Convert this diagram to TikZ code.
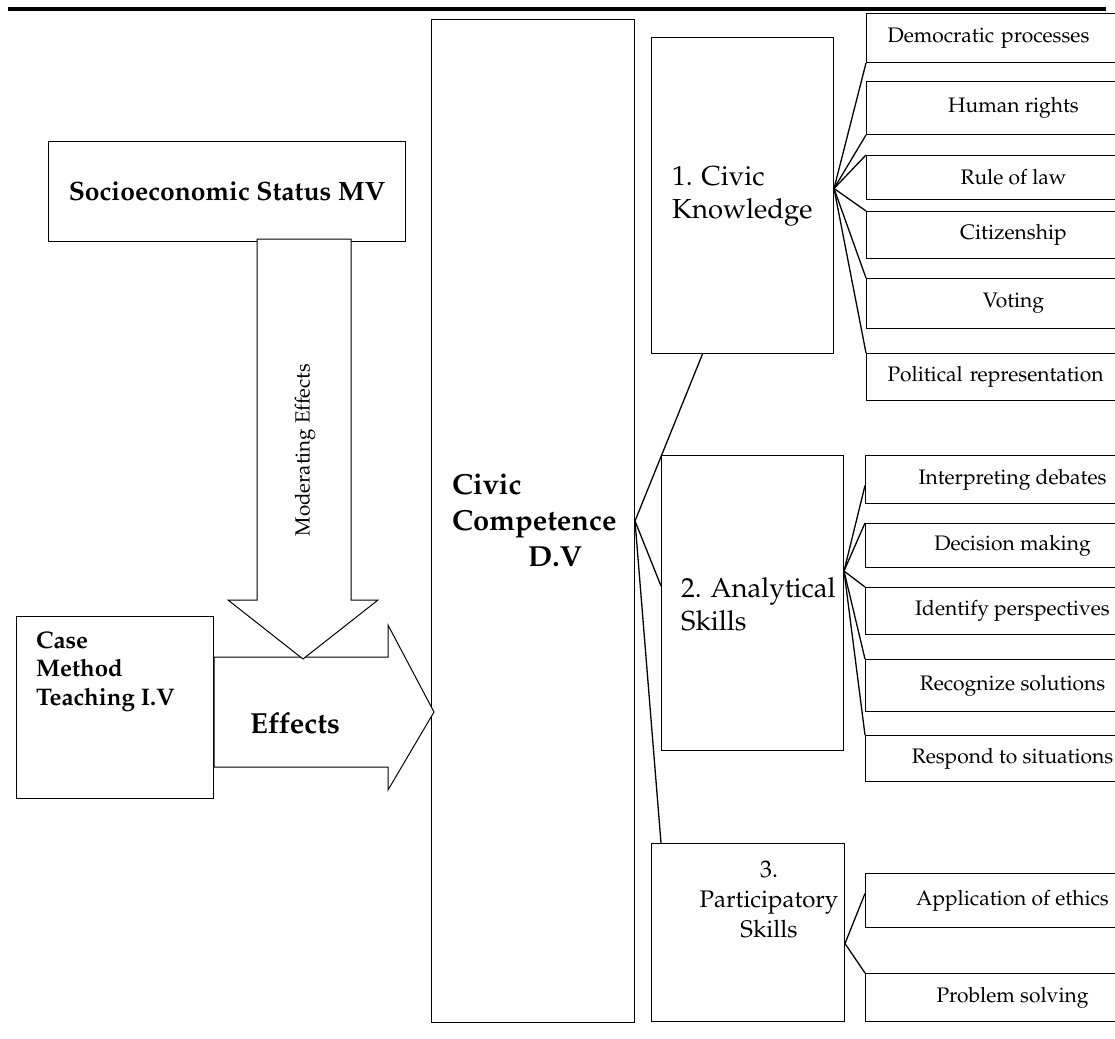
\documentclass[tikz,border=0pt]{standalone}
\usepackage[T1]{fontenc}
\usepackage{mathpazo}
\usepackage{tikz}

\begin{document}
\begin{tikzpicture}[x=1pt, y=-1pt, every node/.style={inner sep=0pt},
  box/.style={draw, line width=1pt, anchor=north west},
  subbox/.style={box, minimum width=294pt, font=\fontsize{21}{25}\selectfont},
  leftsub/.style={text width=252pt, inner xsep=21pt, align=left},
  link/.style={line width=1.3pt},
  blockarrow/.style={draw, line width=1pt, fill=white, line join=miter},
  bigbold/.style={font=\fontsize{29}{36}\selectfont\bfseries},
  bigtext/.style={font=\fontsize{27.5}{32.5}\selectfont}]
  \clip (0,0) rectangle (1115,1038);
  % Rule across the top
  \draw[line width=4pt] (8,9) -- (1106,9);
  % Moderator and independent variable
  \node[box, minimum width=357pt, minimum height=100pt, font=\fontsize{26.5}{32}\selectfont\bfseries] (ses) at (48,141) {Socioeconomic Status MV};
  \node[box, minimum width=197pt, minimum height=182pt] (cmt) at (16,616) {};
  \node[anchor=base west, align=left, font=\fontsize{24}{28.5}\selectfont\bfseries] (cmtlabel) at (36,705) {Case\\Method\\Teaching I.V};
  % Dependent variable
  \node[box, minimum width=203pt, minimum height=1003pt] (cc) at (431,19) {};
  \node[bigbold, anchor=base west, align=left] (cclabel) at (452,566) {Civic\\Competence\\\hspace*{76pt}D.V};
  % Three dimensions
  \node[box, minimum width=182pt, minimum height=316pt] (ck) at (651,37) {};
  \node[bigtext, anchor=base west, align=left] (cklabel) at (672,218) {1. Civic\\Knowledge};
  \node[box, minimum width=182pt, minimum height=295pt] (as) at (661,455) {};
  \node[bigtext, anchor=base west, align=left] (aslabel) at (681,630) {2. Analytical\\Skills};
  \node[box, minimum width=193pt, minimum height=178pt] (pt) at (651,843) {};
  \node[anchor=base, align=center, font=\fontsize{24}{30}\selectfont] (ptlabel) at (769,937) {3.\\Participatory\\Skills};
  % Indicators of civic knowledge
  \node[subbox, leftsub, minimum height=49pt] (dem) at (866,13) {Democratic processes};
  \node[subbox, minimum height=53pt] (hr) at (866,81) {Human rights};
  \node[subbox, minimum height=44pt] (rol) at (866,155) {Rule of law};
  \node[subbox, minimum height=47pt] (cit) at (866,211) {Citizenship};
  \node[subbox, minimum height=50pt] (vot) at (866,278) {Voting};
  \node[subbox, leftsub, minimum height=47pt] (pol) at (866,353) {Political representation};
  % Indicators of analytical skills
  \node[subbox, minimum height=48pt] (ipd) at (865,455) {Interpreting debates};
  \node[subbox, minimum height=44pt] (dm) at (865,523) {Decision making};
  \node[subbox, minimum height=47pt] (idp) at (865,587) {Identify perspectives};
  \node[subbox, minimum height=52pt] (rs) at (865,659) {Recognize solutions};
  \node[subbox, minimum height=46pt] (rts) at (865,735) {Respond to situations};
  % Indicators of participatory skills
  \node[subbox, minimum height=54pt] (ae) at (865,873) {Application of ethics};
  \node[subbox, minimum height=48pt] (ps) at (865,973) {Problem solving};
  % Fan-out connectors
  \coordinate (ckhub) at ([yshift=7pt]ck.east);
  \coordinate (ashub) at ([yshift=32pt]as.east);
  \coordinate (pthub) at ([yshift=-11pt]pt.east);
  \draw[link] (cc.east) -- ([xshift=-40pt]ck.south);
  \draw[link] (cc.east) -- ([yshift=17pt]as.west);
  \draw[link] (cc.east) -- ([xshift=10pt]pt.north west);
  \foreach \t in {dem.south west, hr.south west, rol.north west, cit.north west, vot.north west, pol.north west}
    \draw[link] (ckhub) -- (\t);
  \foreach \t in {dm.north west, idp.north west, rs.north west, rts.north west}
    \draw[link] (ashub) -- (\t);
  \draw[link] (ashub) -- ([yshift=-6pt]ipd.west);
  \draw[link] (pthub) -- ([yshift=7pt]ae.west);
  \draw[link] (pthub) -- (ps.north west);
  % Effects arrow
  \draw[blockarrow] (cmt.east |- 0,657) -- (388,657) -- (388,625) -- (434,712)
    -- (388,790) -- (388,767) -- (cmt.east |- 0,767) -- cycle;
  \node[anchor=base west, font=\fontsize{29}{32}\selectfont\bfseries] (efflabel) at (250,733) {Effects};
  % Moderating arrow
  \draw[blockarrow] (257,239) -- (257,600) -- (228,600) -- (303,659)
    -- (378,600) -- (351,600) -- (351,239) -- cycle;
  \node[rotate=90, font=\fontsize{20.5}{24}\selectfont] (modlabel) at (305,450) {Moderating Effects};
\end{tikzpicture}
\end{document}
